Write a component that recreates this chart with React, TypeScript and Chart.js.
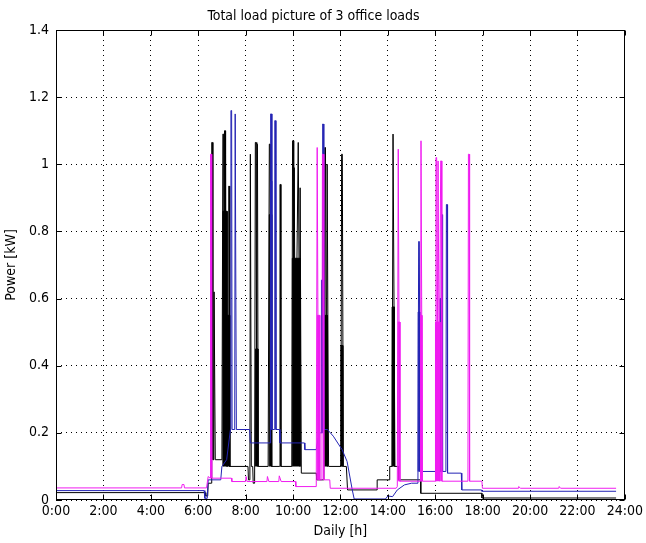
import React, { useEffect, useRef } from "react";
import { Chart, registerables } from "chart.js";

Chart.register(...registerables);

const TITLE = "Total load picture of 3 office loads";
const X_LABEL = "Daily [h]";
const Y_LABEL = "Power [kW]";

const X_TICKS = [0, 2, 4, 6, 8, 10, 12, 14, 16, 18, 20, 22, 24];
const X_TICK_LABELS = ["0:00", "2:00", "4:00", "6:00", "8:00", "10:00", "12:00", "14:00", "16:00", "18:00", "20:00", "22:00", "24:00"];
const Y_TICKS = [0, 0.2, 0.4, 0.6, 0.8, 1, 1.2, 1.4];
const Y_TICK_LABELS = ["0", "0.2", "0.4", "0.6", "0.8", "1", "1.2", "1.4"];

// [hour, kW]
const blackLoad: [number, number][] = [
  [0, 0.022], [6.3, 0.022], [6.32, 0.012], [6.4, 0.012], [6.42, 0.05], [6.55, 0.05],
  [6.57, 1.065], [6.6, 1.065], [6.62, 0.12], [6.66, 0.12], [6.67, 0.62], [6.7, 0.62], [6.72, 0.12],
  [7.0, 0.12], [7.04, 1.09], [7.07, 1.09], [7.09, 0.3], [7.11, 1.1], [7.14, 1.1], [7.15, 0.5], [7.16, 1.03],
  [7.18, 0.2], [7.28, 0.2], [7.29, 0.935], [7.31, 0.935], [7.33, 0.1],
  [8.1, 0.1], [8.12, 0.06], [8.18, 0.06], [8.2, 1.03], [8.22, 1.03], [8.24, 0.1], [8.3, 0.1], [8.32, 0.05],
  [8.38, 0.05], [8.41, 1.065], [8.44, 1.065], [8.46, 0.2], [8.48, 1.06], [8.5, 1.06], [8.53, 0.1],
  [8.95, 0.1], [9.0, 1.06], [9.03, 1.06], [9.05, 0.3], [9.07, 0.9], [9.1, 0.1],
  [9.43, 0.1], [9.45, 0.94], [9.47, 0.94], [9.49, 0.1],
  [9.95, 0.1], [9.98, 1.07], [10.01, 1.07], [10.03, 0.4], [10.05, 0.99], [10.07, 0.99], [10.1, 0.3],
  [10.22, 1.065], [10.25, 1.065], [10.28, 0.4], [10.3, 0.93], [10.32, 0.93], [10.35, 0.08],
  [10.98, 0.08], [11.0, 0.06], [11.3, 0.06], [11.34, 1.05], [11.37, 1.05], [11.4, 0.2], [11.44, 1.0],
  [11.46, 1.0], [11.5, 0.1],
  [12.02, 0.1], [12.05, 1.03], [12.08, 1.03], [12.12, 0.1], [12.25, 0.1], [12.3, 0.03],
  [13.55, 0.03], [13.55, 0.06], [14.05, 0.06], [14.08, 0.1], [14.18, 0.1], [14.22, 1.09], [14.26, 1.09],
  [14.3, 0.1], [14.45, 0.1], [14.45, 0.06], [15.39, 0.06], [15.39, 0.02], [17.97, 0.02], [17.97, 0.006],
  [23.63, 0.006],
];

const blueLoad: [number, number][] = [
  [0, 0.028], [6.25, 0.028], [6.28, 0.005], [6.38, 0.005], [6.42, 0.06], [6.95, 0.06], [7.0, 0.1],
  [7.2, 0.12], [7.36, 0.21], [7.38, 1.16], [7.41, 1.16], [7.43, 0.21], [7.54, 0.21], [7.56, 1.15],
  [7.59, 1.15], [7.61, 0.21], [8.17, 0.21], [8.2, 0.17], [9.03, 0.17], [9.05, 0.21], [9.06, 1.15],
  [9.09, 1.15], [9.11, 0.21], [9.21, 0.21], [9.23, 1.13], [9.26, 1.13], [9.28, 0.21], [9.43, 0.21],
  [9.45, 0.17], [10.48, 0.17], [10.5, 0.15], [10.98, 0.15], [11.1, 0.2], [11.23, 0.2], [11.25, 1.12],
  [11.28, 1.12], [11.3, 0.21], [11.45, 0.21], [11.7, 0.19], [12.07, 0.15], [12.28, 0.115], [12.5, 0.03],
  [12.58, 0.003], [13.9, 0.003], [14.0, 0.012], [14.2, 0.01], [14.4, 0.03], [14.7, 0.045], [15.0, 0.05],
  [15.27, 0.05], [15.3, 0.77], [15.33, 0.77], [15.36, 0.085], [16.24, 0.085], [16.26, 0.85], [16.29, 0.85],
  [16.31, 0.085], [16.45, 0.085], [16.47, 0.88], [16.5, 0.88], [16.52, 0.08], [17.1, 0.08], [17.12, 0.03],
  [17.95, 0.03], [17.97, 0.026], [23.63, 0.026],
];

const magentaLoad: [number, number][] = [
  [0, 0.036], [5.3, 0.036], [5.32, 0.046], [5.4, 0.046], [5.42, 0.036], [6.35, 0.036], [6.42, 0.07],
  [6.5, 0.065], [6.52, 1.03], [6.55, 1.03], [6.57, 0.065], [7.4, 0.065], [7.42, 0.055], [8.0, 0.055],
  [8.02, 0.07], [8.06, 0.055], [8.9, 0.055], [8.92, 0.07], [8.98, 0.055], [9.4, 0.055], [9.42, 0.072],
  [9.5, 0.055], [10.1, 0.055], [10.12, 0.04], [10.98, 0.04], [11.02, 1.05], [11.05, 1.05], [11.08, 0.06],
  [11.22, 0.06], [11.24, 1.03], [11.27, 1.03], [11.3, 0.06], [11.55, 0.06], [11.57, 0.035], [14.35, 0.035],
  [14.4, 0.04], [14.44, 1.045], [14.47, 1.045], [14.5, 0.056], [15.38, 0.056], [15.4, 1.07], [15.43, 1.07],
  [15.46, 0.056], [16.01, 0.056], [16.03, 1.02], [16.06, 1.02], [16.08, 0.3], [16.12, 1.01], [16.15, 1.01],
  [16.17, 0.3], [16.23, 1.01], [16.26, 1.01], [16.28, 0.056], [17.38, 0.056], [17.4, 1.03], [17.43, 1.03],
  [17.45, 0.056], [17.97, 0.056], [17.99, 0.035], [19.5, 0.035], [19.52, 0.04], [19.6, 0.035], [21.2, 0.035],
  [21.22, 0.04], [21.3, 0.035], [23.63, 0.035],
];

// dense switching bursts: [startHour, endHour, lowKW, highKW]
const blackBursts: [number, number, number, number][] = [
  [7.04, 7.22, 0.1, 0.86], [7.22, 7.33, 0.1, 0.55], [8.42, 8.52, 0.1, 0.45], [9.0, 9.1, 0.1, 0.85],
  [9.97, 10.3, 0.1, 0.72], [11.32, 11.45, 0.1, 0.55], [12.02, 12.1, 0.1, 0.46], [14.18, 14.28, 0.1, 0.575],
];
const blueBursts: [number, number, number, number][] = [
  [9.05, 9.1, 0.21, 0.95], [11.2, 11.28, 0.2, 0.655], [15.28, 15.35, 0.085, 0.56], [16.2, 16.27, 0.085, 0.6],
];
const magentaBursts: [number, number, number, number][] = [
  [11.03, 11.13, 0.06, 0.55], [14.44, 14.51, 0.056, 0.53], [15.38, 15.44, 0.056, 0.55], [16.01, 16.2, 0.056, 0.53],
];

const BLACK = "#000000";
const BLUE = "#2424b4";
const MAGENTA = "#f01cf0";
const FONT = '"DejaVu Sans Condensed", "DejaVu Sans", sans-serif';

function lineDataset(points: [number, number][], color: string, order: number) {
  return {
    data: points.map(([x, y]) => ({ x, y })),
    borderColor: color,
    backgroundColor: color,
    borderWidth: 1,
    pointRadius: 0,
    tension: 0,
    fill: false,
    order,
  };
}

function burstDatasets(bursts: [number, number, number, number][], color: string, order: number) {
  return bursts.map(([h0, h1, lo, hi]) => ({
    data: [{ x: h0, y: lo }, { x: h0, y: hi }, { x: h1, y: hi }, { x: h1, y: lo }],
    borderColor: color,
    backgroundColor: color,
    borderWidth: 1,
    pointRadius: 0,
    tension: 0,
    fill: { target: { value: lo } },
    order,
  }));
}

const framePlugin = {
  id: "matlabFrame",
  afterDraw(chart: any) {
    const { ctx, chartArea: a, scales } = chart;
    const L = Math.round(a.left) + 0.5;
    const R = Math.round(a.right) - 0.5;
    const T = Math.round(a.top) + 0.5;
    const B = Math.round(a.bottom) - 0.5;
    ctx.save();
    ctx.strokeStyle = "#000";
    ctx.lineWidth = 1;
    ctx.setLineDash([]);
    ctx.strokeRect(L, T, R - L, B - T);
    const len = 5;
    ctx.beginPath();
    X_TICKS.forEach((v) => {
      const px = Math.round(scales.x.getPixelForValue(v)) + 0.5;
      ctx.moveTo(px, B); ctx.lineTo(px, B - len);
      ctx.moveTo(px, T); ctx.lineTo(px, T + len);
    });
    Y_TICKS.forEach((v) => {
      const py = Math.round(scales.y.getPixelForValue(v)) + 0.5;
      ctx.moveTo(L, py); ctx.lineTo(L + len, py);
      ctx.moveTo(R, py); ctx.lineTo(R - len, py);
    });
    ctx.stroke();
    ctx.restore();
  },
};

export default function App() {
  const ref = useRef<HTMLCanvasElement>(null);
  useEffect(() => {
    if (!ref.current) return;
    const datasets: any[] = [
      ...burstDatasets(blackBursts, BLACK, 6),
      lineDataset(blackLoad, BLACK, 5),
      ...burstDatasets(blueBursts, BLUE, 4),
      lineDataset(blueLoad, BLUE, 3),
      ...burstDatasets(magentaBursts, MAGENTA, 2),
      lineDataset(magentaLoad, MAGENTA, 1),
    ];
    const chart = new Chart(ref.current, {
      type: "line",
      data: { datasets },
      options: {
        animation: false,
        responsive: false,
        devicePixelRatio: 1,
        events: [],
        layout: { padding: { left: 0, right: 19, top: 0, bottom: 0 } },
        plugins: {
          legend: { display: false },
          tooltip: { enabled: false },
          title: {
            display: true,
            text: TITLE,
            color: "#000",
            font: { family: FONT, size: 14, weight: "normal", lineHeight: 1.2 },
            padding: { top: 7.6, bottom: 5.6 },
          },
        },
        scales: {
          x: {
            type: "linear",
            min: 0,
            max: 24,
            afterBuildTicks: (s: any) => { s.ticks = X_TICKS.map((v) => ({ value: v })); },
            afterFit: (s: any) => { s.height = 43; },
            ticks: {
              autoSkip: false,
              maxRotation: 0,
              padding: 3,
              color: "#000",
              font: { family: FONT, size: 14 },
              callback: (v: any) => X_TICK_LABELS[X_TICKS.indexOf(Number(v))] ?? "",
            },
            grid: { color: "#000", lineWidth: 1, drawTicks: false },
            border: { display: false, dash: [1, 4] },
            title: {
              display: true,
              text: X_LABEL,
              color: "#000",
              font: { family: FONT, size: 14, lineHeight: 1.2 },
              padding: { top: 0, bottom: 3 },
            },
          },
          y: {
            type: "linear",
            min: 0,
            max: 1.4,
            afterBuildTicks: (s: any) => { s.ticks = Y_TICKS.map((v) => ({ value: v })); },
            afterFit: (s: any) => { s.width = 56; },
            ticks: {
              padding: 7,
              color: "#000",
              font: { family: FONT, size: 14 },
              callback: (v: any) => {
                const i = Y_TICKS.findIndex((t) => Math.abs(t - Number(v)) < 1e-9);
                return i >= 0 ? Y_TICK_LABELS[i] : "";
              },
            },
            grid: { color: "#000", lineWidth: 1, drawTicks: false },
            border: { display: false, dash: [1, 4] },
            title: {
              display: true,
              text: Y_LABEL,
              color: "#000",
              font: { family: FONT, size: 14, lineHeight: 1.2 },
              padding: { top: 3, bottom: 0 },
            },
          },
        },
      },
      plugins: [framePlugin],
    } as any);
    return () => chart.destroy();
  }, []);

  return (
    <div style={{ position: "fixed", left: 0, top: 0, width: 646, height: 543, background: "#fff" }}>
      <canvas ref={ref} width={646} height={543} style={{ display: "block", width: 646, height: 543 }} />
    </div>
  );
}
